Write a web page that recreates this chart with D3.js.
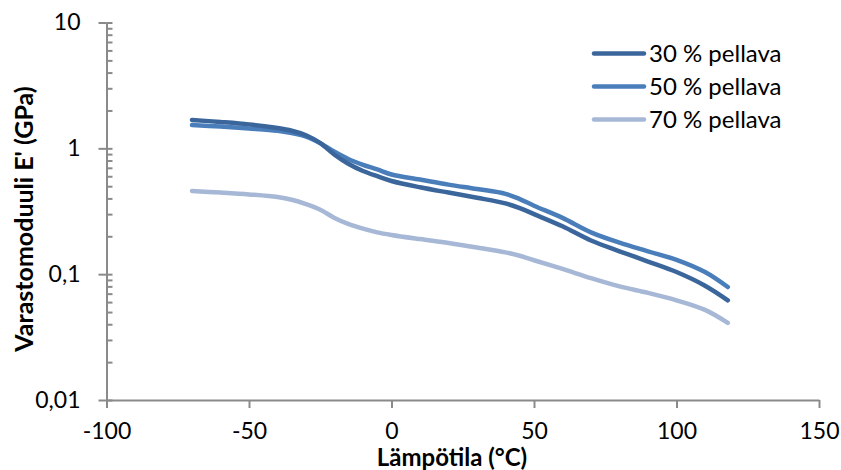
<!DOCTYPE html>
<html>
<head>
<meta charset="utf-8">
<script src="https://d3js.org/d3.v7.min.js"></script>
<style>
  body { margin: 0; background: #fff; }
  text { font-family: Lato, "Open Sans", sans-serif; fill: #000; }
</style>
</head>
<body>
<div id="chart"></div>
<script>
// lampotila (C) ja varastomoduuli E' (GPa)
var temps = [-70, -60, -50, -40, -35, -30, -25, -20, -15, -10, -5, 0, 10, 20, 30, 40, 45, 50, 60, 70, 80, 90, 100, 110, 118];
var flax30 = [1.68, 1.62, 1.55, 1.45, 1.38, 1.27, 1.10, 0.89, 0.75, 0.66, 0.60, 0.55, 0.49, 0.445, 0.405, 0.365, 0.335, 0.30, 0.24, 0.185, 0.152, 0.126, 0.104, 0.081, 0.062];
var flax50 = [1.53, 1.49, 1.44, 1.38, 1.32, 1.24, 1.10, 0.94, 0.82, 0.74, 0.68, 0.62, 0.565, 0.515, 0.475, 0.435, 0.395, 0.35, 0.28, 0.215, 0.178, 0.152, 0.13, 0.104, 0.079];
var flax70 = [0.458, 0.445, 0.43, 0.41, 0.39, 0.36, 0.325, 0.28, 0.25, 0.23, 0.215, 0.205, 0.19, 0.177, 0.163, 0.149, 0.14, 0.129, 0.11, 0.093, 0.08, 0.071, 0.062, 0.052, 0.041];
var seriesNames = ["30 % pellava", "50 % pellava", "70 % pellava"];
var xTicks = [-100, -50, 0, 50, 100, 150];
var yTicks = [0.01, 0.1, 1, 10];
var yTickLabels = ["0,01", "0,1", "1", "10"];

var colors = ["#3b669c", "#4a7ebb", "#a6b8d6"];
var axisColor = "#8a8a8a";

function chart(){
    var width = 841, height = 470;
    var left = 106.5, right = 819, top = 22.5, bottom = 400;

    var svg = d3.select("#chart")
      .append("svg")
        .attr("width", width)
        .attr("height", height);

    var x = d3.scaleLinear().domain([-100, 150]).range([left, right]);
    var y = d3.scaleLog().domain([0.01, 10]).range([bottom, top]);

    // minor ticks, inside
    var minor = [];
    [0.01, 0.1, 1].forEach(function(d){
        for (var k = 2; k <= 9; k++) minor.push(d * k);
    });
    svg.append("g")
        .attr("transform", "translate(" + left + ",0)")
        .call(d3.axisRight(y).tickValues(minor).tickSize(6).tickFormat(""))
        .call(function(g){ g.select(".domain").remove(); });

    // major ticks cross the axis
    svg.append("g")
        .attr("transform", "translate(" + left + ",0)")
        .call(d3.axisRight(y).tickValues(yTicks).tickSize(6).tickFormat(""))
        .call(function(g){ g.select(".domain").remove(); });

    // Y axis
    svg.append("g")
        .attr("transform", "translate(" + left + ",0)")
        .call(d3.axisLeft(y).tickValues(yTicks).tickSizeInner(8).tickSizeOuter(0).tickPadding(18)
            .tickFormat(function(d, i){ return yTickLabels[i]; }))
        .selectAll("text")
            .style("font-size", "23px");

    // X axis (hyphen minus like the original)
    svg.append("g")
        .attr("transform", "translate(0," + bottom + ")")
        .call(d3.axisBottom(x).tickValues(xTicks).tickSizeInner(8).tickSizeOuter(0).tickPadding(15)
            .tickFormat(function(d){ return String(d); }))
        .selectAll("text")
            .style("font-size", "23px");

    svg.selectAll(".domain, .tick line")
        .attr("stroke", axisColor)
        .attr("stroke-width", 2);

    // lines
    var series = [flax30, flax50, flax70];
    var line = d3.line()
        .x(function(d, i){ return x(temps[i]); })
        .y(function(d){ return y(d); })
        .curve(d3.curveCatmullRom.alpha(0.5));

    // 70 first so the darker ones sit on top
    [2, 1, 0].forEach(function(s){
        svg.append("path")
            .datum(series[s])
            .attr("d", line)
            .attr("fill", "none")
            .attr("stroke", colors[s])
            .attr("stroke-width", 4.5)
            .attr("stroke-linecap", "round")
            .attr("stroke-linejoin", "round");
    });

    // legend
    var legend = svg.append("g");
    seriesNames.forEach(function(name, i){
        var ly = 53.5 + i * 33;
        legend.append("line")
            .attr("x1", 594).attr("x2", 644)
            .attr("y1", ly).attr("y2", ly)
            .attr("stroke", colors[i])
            .attr("stroke-width", 4.5)
            .attr("stroke-linecap", "round");
        legend.append("text")
            .attr("x", 649).attr("y", ly)
            .attr("dy", "0.35em")
            .style("font-size", "24px")
            .text(name);
    });

    // axis titles
    svg.append("text")
        .attr("x", 452).attr("y", 466)
        .attr("text-anchor", "middle")
        .style("font-size", "24px")
        .style("font-weight", "bold")
        .text("Lämpötila (°C)");

    svg.append("text")
        .attr("transform", "translate(33,219)rotate(-90)")
        .attr("text-anchor", "middle")
        .style("font-size", "25px")
        .style("font-weight", "bold")
        .text("Varastomoduuli E' (GPa)");
}

chart()
</script>
</body>
</html>
